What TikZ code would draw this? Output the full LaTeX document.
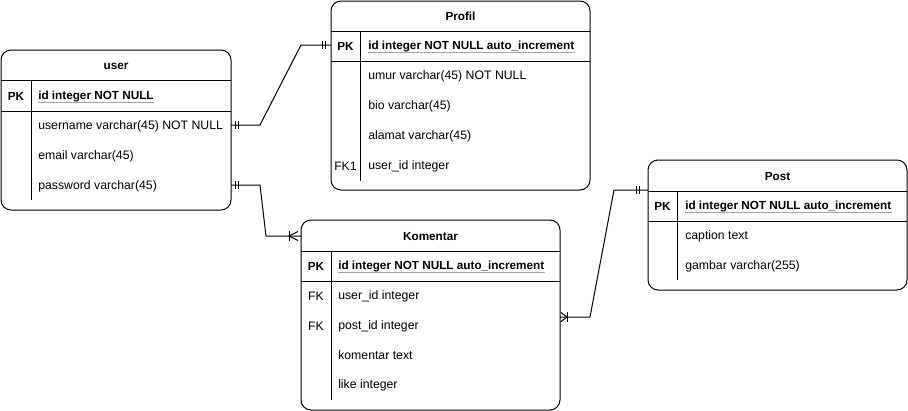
\documentclass[tikz,border=0pt]{standalone}
\usepackage{fontspec}
\setmainfont{Liberation Sans}
\begin{document}
\begin{tikzpicture}[x=0.75pt,y=-0.75pt,
  tbl/.style={draw, line width=0.75pt, rounded corners=7.5pt, anchor=north west, inner sep=0pt, outer sep=0pt},
  sep/.style={line width=0.75pt},
  ttl/.style={font=\fontsize{8.8}{11}\selectfont\bfseries, inner sep=0pt},
  keyb/.style={font=\fontsize{8.8}{11}\selectfont\bfseries, inner sep=0pt},
  keyt/.style={font=\fontsize{9.2}{11}\selectfont, inner sep=0pt},
  pkt/.style={font=\fontsize{8.8}{11}\selectfont\bfseries, anchor=west, inner sep=0pt},
  fld/.style={font=\fontsize{9.2}{11}\selectfont, anchor=west, inner sep=0pt},
  conn/.style={line width=0.75pt},
  ul/.style={draw=gray!70, line width=1pt}
]
\useasboundingbox (0,0) rectangle (908,411);

% ---------- user ----------
\node[tbl, minimum width=172.5pt, minimum height=120pt] (user) at (1,50) {};
\draw[sep] (1,80) -- (231,80);
\draw[sep] (1,111) -- (231,111);
\draw[sep] (31,80) -- (31,200);
\node[ttl] (userT) at (116,66.5) {user};
\node[keyb] (userPKk) at (16,96.5) {PK};
\node[pkt] (userId) at (38,96.5) {id integer NOT NULL};
\draw[ul] ([yshift=-2pt]userId.base west) -- ([yshift=-2pt]userId.base east);
\node[fld] (uname) at (38,126.5) {username varchar(45) NOT NULL};
\node[fld] (umail) at (38,156.5) {email varchar(45)};
\node[fld] (upass) at (38,186.5) {password varchar(45)};

% ---------- Profil ----------
\node[tbl, minimum width=194.25pt, minimum height=141.75pt] (prof) at (331,1) {};
\draw[sep] (331,31) -- (590,31);
\draw[sep] (331,61) -- (590,61);
\draw[sep] (360,31) -- (360,181);
\node[ttl] (profT) at (460.5,16.5) {Profil};
\node[keyb] (profPKk) at (345.5,46.5) {PK};
\node[pkt] (profId) at (368,46.5) {id integer NOT NULL auto\_increment};
\draw[ul] ([yshift=-2pt]profId.base west) -- ([yshift=-2pt]profId.base east);
\node[fld] (pumur) at (368,76.5) {umur varchar(45) NOT NULL};
\node[fld] (pbio) at (368,106.5) {bio varchar(45)};
\node[fld] (palamat) at (368,136.5) {alamat varchar(45)};
\node[keyt] (pfk) at (345.5,166.5) {FK1};
\node[fld] (puid) at (368,166.5) {user\_id integer};

% ---------- Komentar ----------
\node[tbl, minimum width=194.25pt, minimum height=142.5pt] (kom) at (301,220) {};
\draw[sep] (301,251) -- (560,251);
\draw[sep] (301,281) -- (560,281);
\draw[sep] (331,251) -- (331,400);
\node[ttl] (komT) at (430.5,236.5) {Komentar};
\node[keyb] (komPKk) at (316,266.5) {PK};
\node[pkt] (komId) at (338,266.5) {id integer NOT NULL auto\_increment};
\draw[ul] ([yshift=-2pt]komId.base west) -- ([yshift=-2pt]komId.base east);
\node[keyt] (kfk1) at (316,296.5) {FK};
\node[fld] (kuid) at (338,296.5) {user\_id integer};
\node[keyt] (kfk2) at (316,326.5) {FK};
\node[fld] (kpid) at (338,326.5) {post\_id integer};
\node[fld] (ktext) at (338,355.5) {komentar text};
\node[fld] (klike) at (338,385.5) {like integer};

% ---------- Post ----------
\node[tbl, minimum width=194.25pt, minimum height=97.5pt] (post) at (648,160) {};
\draw[sep] (648,191) -- (907,191);
\draw[sep] (648,221) -- (907,221);
\draw[sep] (677,191) -- (677,280);
\node[ttl] (postT) at (777.5,176.5) {Post};
\node[keyb] (postPKk) at (662.5,206.5) {PK};
\node[pkt] (postId) at (685,206.5) {id integer NOT NULL auto\_increment};
\draw[ul] ([yshift=-2pt]postId.base west) -- ([yshift=-2pt]postId.base east);
\node[fld] (pcap) at (685,236.5) {caption text};
\node[fld] (pgam) at (685,266.5) {gambar varchar(255)};

% ---------- connectors ----------
% user -- Profil (one to one)
\draw[conn] (user.east |- 0,125) -- (260,125) -- (301,45) -- (prof.west |- 0,45);
\draw[conn] (235,121) -- (235,129) (238,121) -- (238,129);
\draw[conn] (322,41) -- (322,49) (325,41) -- (325,49);

% user -- Komentar (one to many)
\draw[conn] (user.east |- 0,185) -- (260,185) -- (266,236) -- (kom.west |- 0,236);
\draw[conn] (235,181) -- (235,189) (238,181) -- (238,189);
\draw[conn] (289,231) -- (289,241);
\draw[conn] (298,231.5) -- (289,236) -- (298,240.5);

% Komentar -- Post (many to one)
\draw[conn] (kom.east |- 0,317) -- (590,317) -- (614,190) -- (post.west |- 0,190);
\draw[conn] (567,312) -- (567,322);
\draw[conn] (561,312.5) -- (567,317) -- (561,321.5);
\draw[conn] (636,186) -- (636,194) (639,186) -- (639,194);
\end{tikzpicture}
\end{document}
